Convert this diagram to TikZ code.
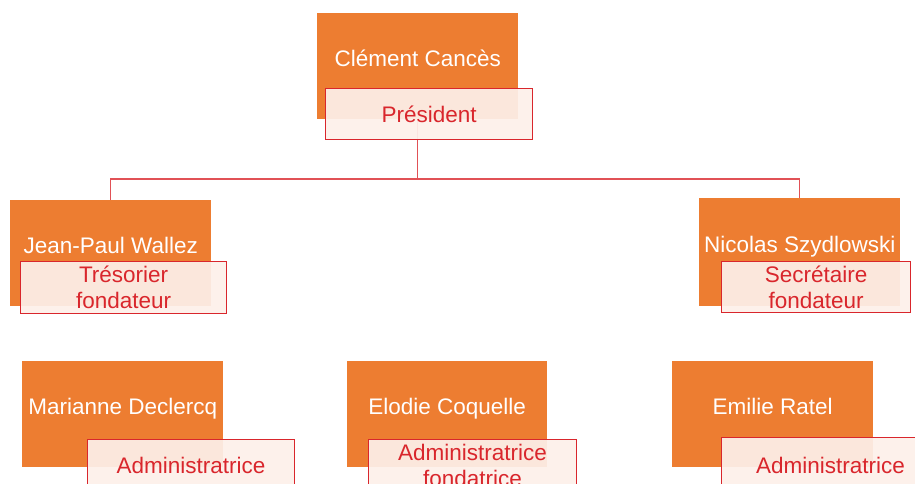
\documentclass[tikz,border=0pt]{standalone}
\usepackage{fontspec}
\setmainfont{Liberation Sans}
\usepackage[]{xcolor}
\usepackage[]{tikz}
\definecolor{boxorange}{HTML}{ED7D31}
\definecolor{rolered}{HTML}{D9262C}
\definecolor{rolefill}{HTML}{FDF0EA}
\tikzset{personbox/.style={fill=boxorange,text=white,minimum width=201pt,minimum height=106pt,anchor=north west,inner sep=0pt,text height=12pt,text depth=12pt,font=\fontsize{22.5}{26}\selectfont}}
\tikzset{rolebox/.style={draw=rolered,line width=1.2pt,fill=rolefill,fill opacity=0.93,text opacity=1,text=rolered,minimum width=207pt,minimum height=52pt,anchor=north west,inner sep=0pt,align=center,font=\fontsize{22.5}{26}\selectfont}}
\tikzset{link/.style={draw=rolered!80,line width=1.2pt}}

\begin{document}
\begin{tikzpicture}[x=1pt,y=-1pt] % 1pt = 1px de l'image
            \useasboundingbox (0,0) rectangle (915,484);
            \clip (0,0) rectangle (915,484);
            \node[personbox] (cances) at (317,13) {Clément Cancès};
            \node[personbox] (wallez) at (10,200) {Jean-Paul Wallez};
            \node[personbox,minimum height=108pt] (szydlowski) at (699,198) {Nicolas Szydlowski};
            \node[personbox] (declercq) at (22,361) {Marianne Declercq};
            \node[personbox,minimum width=200pt] (coquelle) at (347,361) {Elodie Coquelle};
            \node[personbox] (ratel) at (672,361) {Emilie Ratel};
            \coordinate (bus) at (0,179);
            \draw[link] (cances.south) -- (cances.south |- bus) -| (wallez.north);
            \draw[link] (cances.south |- bus) -| (szydlowski.north);
            \node[rolebox,minimum height=51pt] (president) at (325,88) {Président};
            \node[rolebox,minimum width=206pt] (tresorier) at (20,261) {Trésorier\\fondateur};
            \node[rolebox,minimum width=189pt,minimum height=51pt] (secretaire) at (721,261) {Secrétaire\\fondateur};
            \node[rolebox] (admin1) at (87,439) {Administratrice};
            \node[rolebox,minimum width=208pt] (admin2) at (368,439) {Administratrice\\fondatrice};
            \node[rolebox,minimum width=218pt,minimum height=56pt] (admin3) at (721,437) {Administratrice};
        \end{tikzpicture}
\end{document}
